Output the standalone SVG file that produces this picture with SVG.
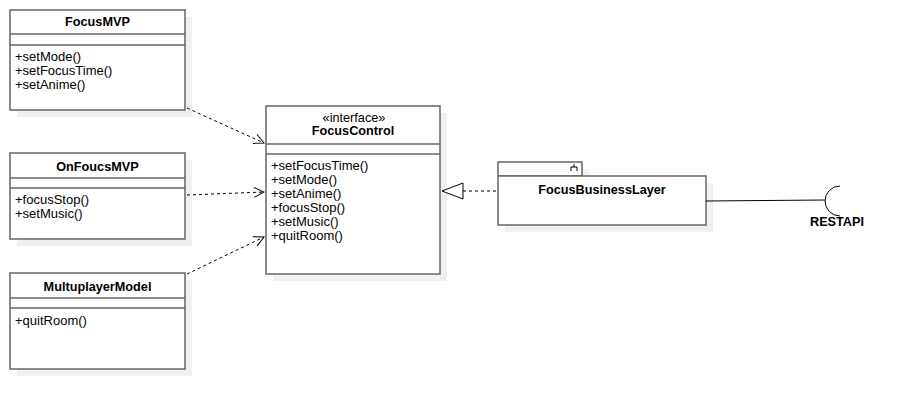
<svg xmlns="http://www.w3.org/2000/svg" width="912" height="410" viewBox="0 0 912 410">
<style>
.sh{fill:#f0f0f0;stroke:none}
.bx{fill:#fff;stroke:#666;stroke-width:1.5}
.ln{stroke:#666;stroke-width:1.5;fill:none}
.t{font-family:"Liberation Sans",Arial,sans-serif;font-size:13px;fill:#000}
.b{font-weight:bold;text-anchor:middle;font-size:12.7px}
.c{text-anchor:middle;font-size:12.7px}
.dash{stroke:#000;stroke-width:1;fill:none;stroke-dasharray:3,3}
</style>
<defs>
<marker id="open" viewBox="0 0 12 12" refX="11" refY="6" markerWidth="12" markerHeight="12" markerUnits="userSpaceOnUse" orient="auto">
<path d="M1,1 L11,6 L1,11" fill="none" stroke="#000" stroke-width="1"/>
</marker>
</defs>
<rect width="912" height="410" fill="#fff"/>
<g id="FocusMVP">
<rect class="sh" x="17" y="17" width="175" height="100"/>
<rect class="bx" x="10" y="10" width="175" height="100"/>
<line class="ln" x1="10" y1="34" x2="185" y2="34"/>
<line class="ln" x1="10" y1="45" x2="185" y2="45"/>
<text class="t b" x="97.5" y="26">FocusMVP</text>
<text class="t" x="15" y="61">+setMode()</text>
<text class="t" x="15" y="75">+setFocusTime()</text>
<text class="t" x="15" y="89">+setAnime()</text>
</g>
<g id="OnFoucsMVP">
<rect class="sh" x="17" y="160" width="175" height="86"/>
<rect class="bx" x="10" y="153" width="175" height="86"/>
<line class="ln" x1="10" y1="178" x2="185" y2="178"/>
<line class="ln" x1="10" y1="188" x2="185" y2="188"/>
<text class="t b" x="97.5" y="171">OnFoucsMVP</text>
<text class="t" x="15" y="204">+focusStop()</text>
<text class="t" x="15" y="218">+setMusic()</text>
</g>
<g id="MultuplayerModel">
<rect class="sh" x="17" y="280" width="175" height="96"/>
<rect class="bx" x="10" y="273" width="175" height="96"/>
<line class="ln" x1="10" y1="298" x2="185" y2="298"/>
<line class="ln" x1="10" y1="308" x2="185" y2="308"/>
<text class="t b" x="97.5" y="291">MultuplayerModel</text>
<text class="t" x="15" y="325">+quitRoom()</text>
</g>
<g id="FocusControl">
<rect class="sh" x="273" y="113" width="174" height="168"/>
<rect class="bx" x="266" y="106" width="174" height="168"/>
<line class="ln" x1="266" y1="144" x2="440" y2="144"/>
<line class="ln" x1="266" y1="154" x2="440" y2="154"/>
<text class="t c" x="354" y="122">«interface»</text>
<text class="t b" x="353" y="135">FocusControl</text>
<text class="t" x="271" y="170">+setFocusTime()</text>
<text class="t" x="271" y="184">+setMode()</text>
<text class="t" x="271" y="198">+setAnime()</text>
<text class="t" x="271" y="212">+focusStop()</text>
<text class="t" x="271" y="226">+setMusic()</text>
<text class="t" x="271" y="240">+quitRoom()</text>
</g>
<g id="FocusBusinessLayer">
<rect class="sh" x="505" y="169" width="84" height="14"/>
<rect class="sh" x="505" y="183" width="208" height="49"/>
<rect class="bx" x="498" y="162" width="84" height="14"/>
<rect class="bx" x="498" y="176" width="208" height="49"/>
<path d="M574,164 V167 M571,171 V167 H577 V171" fill="none" stroke="#000" stroke-width="1"/>
<text class="t b" x="602" y="194">FocusBusinessLayer</text>
</g>
<g id="RESTAPI">
<path d="M840,186 A15,15 0 0 0 840,216" fill="none" stroke="#000" stroke-width="1"/>
<text class="t b" x="837" y="226">RESTAPI</text>
</g>
<g id="connectors">
<line class="dash" x1="187" y1="108" x2="264" y2="143" marker-end="url(#open)"/>
<line class="dash" x1="187" y1="195" x2="264" y2="192" marker-end="url(#open)"/>
<line class="dash" x1="187" y1="274" x2="264" y2="237" marker-end="url(#open)"/>
<line class="dash" x1="463" y1="191" x2="498" y2="191"/>
<path d="M442,191 L463,183 L463,199 Z" fill="#fff" stroke="#000" stroke-width="1"/>
<line x1="706" y1="201" x2="825" y2="200" stroke="#000" stroke-width="1"/>
</g>
</svg>
